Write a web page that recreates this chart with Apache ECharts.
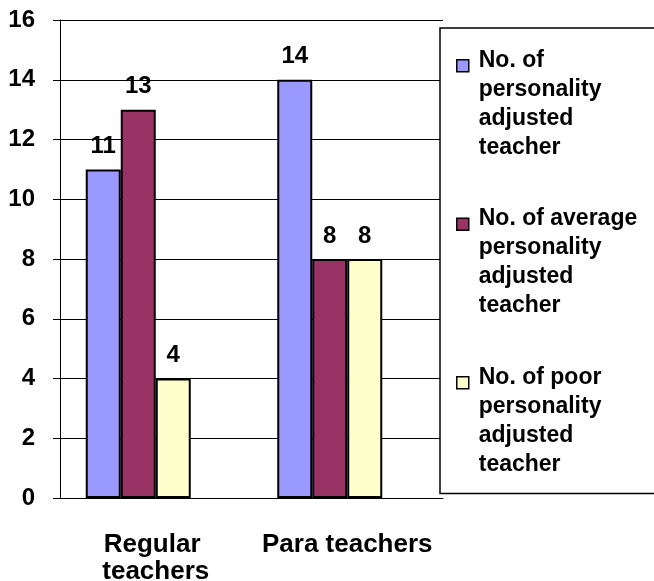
<!DOCTYPE html>
<html>
<head>
<meta charset="utf-8">
<script src="https://cdn.jsdelivr.net/npm/echarts@6/dist/echarts.min.js"></script>
<style>
  html, body { margin: 0; padding: 0; background: #fff; }
  #chart { width: 654px; height: 581px; }
</style>
</head>
<body>
<div id="chart"></div>
<script>
const categories = ['Regular teachers', 'Para teachers']
const adjusted = [11, 14]
const average = [13, 8]
const poor = [4, 8]
const seriesNames = [
  'No. of\npersonality\nadjusted\nteacher',
  'No. of average\npersonality\nadjusted\nteacher',
  'No. of poor\npersonality\nadjusted\nteacher'
]
const colors = ['#9999FF', '#993366', '#FFFFCC']

const font = 'Liberation Sans, Arial, sans-serif'
// legend icon: small square on first text line, empty moves keep the box full size
const legendIcon = 'path://M0,14L12,14L12,26L0,26Z M0,0 M17,116'

const barSeries = (name, data, color) => ({
  name: name,
  type: 'bar',
  data: data,
  barWidth: 35,
  barGap: 0,
  itemStyle: { color: color, borderColor: '#000', borderWidth: 2 },
  label: {
    show: true,
    position: 'top',
    distance: 11,
    color: '#000',
    fontSize: 24,
    fontWeight: 'bold',
    fontFamily: font
  }
})

const chart = echarts.init(document.getElementById('chart'))
chart.setOption({
  animation: false,
  grid: { left: 60, right: 211, top: 20, bottom: 83, outerBoundsMode: 'none' },
  legend: {
    orient: 'vertical',
    left: 440,
    top: 28,
    padding: [17, 40, 14, 16],
    itemGap: 41,
    itemWidth: 17,
    itemHeight: 116,
    selectedMode: false,
    backgroundColor: '#fff',
    borderColor: '#000',
    borderWidth: 1.5,
    data: seriesNames.map(n => ({ name: n, icon: legendIcon })),
    itemStyle: { borderColor: '#000', borderWidth: 1.5 },
    textStyle: {
      color: '#000',
      fontSize: 23,
      fontWeight: 'bold',
      fontFamily: font,
      lineHeight: 29
    }
  },
  xAxis: {
    type: 'category',
    data: categories,
    axisLine: { lineStyle: { color: '#000', width: 1 } },
    axisTick: { length: 8, lineStyle: { color: '#000' } },
    axisLabel: {
      interval: 0,
      color: '#000',
      fontSize: 26,
      fontWeight: 'bold',
      fontFamily: font,
      lineHeight: 27,
      margin: 33,
      width: 180,
      overflow: 'break'
    }
  },
  yAxis: {
    type: 'value',
    min: 0,
    max: 16,
    interval: 2,
    axisLine: { show: true, lineStyle: { color: '#000', width: 1 } },
    axisTick: { show: true, length: 7, lineStyle: { color: '#000' } },
    splitLine: { lineStyle: { color: '#000', width: 1 } },
    axisLabel: {
      color: '#000',
      fontSize: 24,
      fontWeight: 'bold',
      fontFamily: font,
      margin: 25
    }
  },
  series: [
    barSeries(seriesNames[0], adjusted, colors[0]),
    barSeries(seriesNames[1], average, colors[1]),
    barSeries(seriesNames[2], poor, colors[2]),
    // empty slot: Excel leaves room for a 4th bar, so groups sit left of center
    { name: 'spacer', type: 'bar', data: [null, null], barWidth: 35, barGap: 0 }
  ]
})
</script>
</body>
</html>
